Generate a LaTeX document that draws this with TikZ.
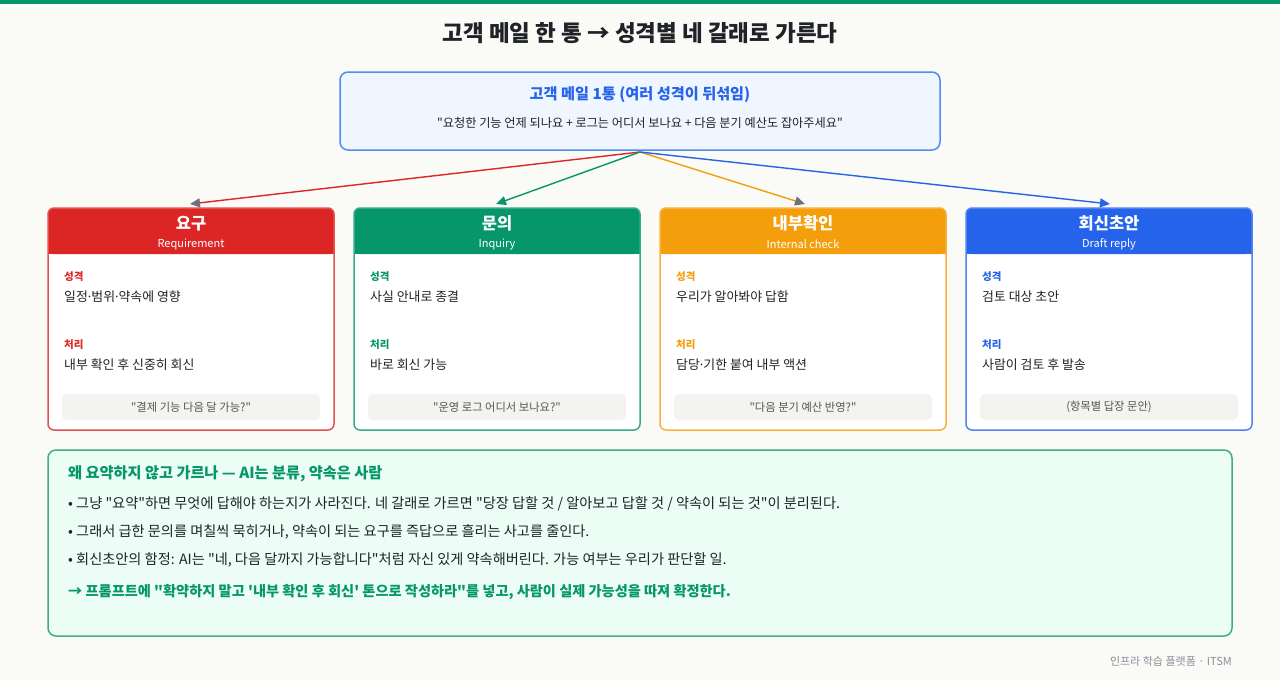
\documentclass[tikz,border=0pt]{standalone}
\usepackage{fontspec}
\setmainfont{Noto Sans CJK KR}[Ligatures=TeXOff]
\newfontfamily\dotfont{Noto Sans}
\usetikzlibrary{arrows.meta,calc}
\definecolor{bgc}{HTML}{FAFAF7}
\definecolor{cred}{HTML}{DC2626}
\definecolor{cgreen}{HTML}{059669}
\definecolor{corange}{HTML}{F59E0B}
\definecolor{cblue}{HTML}{2563EB}
\definecolor{ink}{HTML}{1F2328}
\definecolor{agray}{HTML}{6B7280}
\definecolor{qfill}{HTML}{F3F3EF}
\definecolor{qtext}{HTML}{555555}
\definecolor{topfill}{HTML}{EFF6FF}
\definecolor{topline}{HTML}{558BEF}
\definecolor{whyfill}{HTML}{ECFDF5}
\definecolor{whyline}{HTML}{40AD85}
\definecolor{foot}{HTML}{8A8F98}
\newcommand\fsz[1]{\fontsize{#1}{#1}\selectfont}
\newcommand\mdot{{\dotfont ·}}
\tikzset{
  cardbox/.style={fill=white, minimum width=286, minimum height=222, inner sep=0, outer sep=0},
  lbl/.style={anchor=west, inner sep=0, font=\fsz{10.5}\bfseries},
  bodytxt/.style={anchor=west, inner sep=0, font=\fsz{12.9}, text=ink},
  conn/.style={line width=1.4},
  bul/.style={anchor=west, inner sep=0, text=ink, font=\fsz{14.2}},
}
\newcommand\drawcard[8]{%
  \node[cardbox] (#1) at (#2,319) {};
  \fill[#3, rounded corners=6] (#1.north west) rectangle ($(#1.north east)+(0,46)$);
  \fill[#3] ($(#1.north west)+(0,30)$) rectangle ($(#1.north east)+(0,46)$);
  \draw[#3!80!white, line width=1.5, rounded corners=6] (#1.north west) rectangle (#1.south east);
  \node[inner sep=0, text=white, font=\fsz{16.5}\bfseries] (#1-t) at ($(#1.north)+(0,15.5)$) {#4};
  \node[inner sep=0, text=white, font=\fsz{11}] (#1-s) at ($(#1.north)+(0,36.5)$) {#5};
  \node[lbl, text=#3] (#1-l1) at ($(#1.north west)+(16,69)$) {성격};
  \node[bodytxt] (#1-b1) at ($(#1.north west)+(16,89)$) {#6};
  \node[lbl, text=#3] (#1-l2) at ($(#1.north west)+(16,137)$) {처리};
  \node[bodytxt] (#1-b2) at ($(#1.north west)+(16,157)$) {#7};
  \node[fill=qfill, rounded corners=5, minimum width=258, minimum height=26, inner sep=0, text=qtext, font=\fsz{11.3}] (#1-q) at ($(#1.north)+(0,199)$) {#8};
}
\begin{document}
\begin{tikzpicture}[x=1pt, y=-1pt]
\useasboundingbox (0,0) rectangle (1280,680);
\fill[bgc] (0,0) rectangle (1280,680);
\fill[cgreen] (0,0) rectangle (1280,4);
\node[inner sep=0, text=ink, font=\fsz{22.5}\bfseries] (title) at (640,33) {고객 메일 한 통 → 성격별 네 갈래로 가른다};

\node[draw=topline, fill=topfill, line width=1.5, rounded corners=8, minimum width=600, minimum height=78, inner sep=0, outer sep=0] (mail) at (640,111) {};
\node[inner sep=0, text=cblue, font=\fsz{15.2}\bfseries] (mail-t) at (640,95) {고객 메일 1통 (여러 성격이 뒤섞임)};
\node[inner sep=0, text=ink, font=\fsz{12.2}] (mail-s) at (640,123) {"요청한 기능 언제 되나요 + 로그는 어디서 보나요 + 다음 분기 예산도 잡아주세요"};

\drawcard{req}{191}{cred}{요구}{Requirement}{일정\mdot 범위\mdot 약속에 영향}{내부 확인 후 신중히 회신}{"결제 기능 다음 달 가능?"}
\drawcard{inq}{497}{cgreen}{문의}{Inquiry}{사실 안내로 종결}{바로 회신 가능}{"운영 로그 어디서 보나요?"}
\drawcard{chk}{803}{corange}{내부확인}{Internal check}{우리가 알아봐야 답함}{담당\mdot 기한 붙여 내부 액션}{"다음 분기 예산 반영?"}
\drawcard{dft}{1109}{cblue}{회신초안}{Draft reply}{검토 대상 초안}{사람이 검토 후 발송}{(항목별 답장 문안)}

\coordinate (src) at ($(mail.south)+(0,2)$);
\draw[conn, cred, -{Triangle[length=10pt,width=9pt,color=agray]}] (src) -- ($(req.north)+(-1,-4)$);
\draw[conn, cgreen, -{Triangle[length=10pt,width=9pt]}] (src) -- ($(inq.north)+(-1,-4)$);
\draw[conn, corange, -{Triangle[length=10pt,width=9pt,color=agray]}] (src) -- ($(chk.north)+(2,-4)$);
\draw[conn, cblue, -{Triangle[length=10pt,width=9pt]}] (src) -- ($(dft.north)+(1,-4)$);

\node[draw=whyline, fill=whyfill, line width=1.5, rounded corners=8, minimum width=1184, minimum height=186, inner sep=0, outer sep=0] (why) at (640,543) {};
\node[anchor=west, inner sep=0, text=cgreen, font=\fsz{15.2}\bfseries] (why-h) at (68,474) {왜 요약하지 않고 가르나 — AI는 분류, 약속은 사람};
\node[bul] (why-1) at (68,504) {• 그냥 "요약"하면 무엇에 답해야 하는지가 사라진다. 네 갈래로 가르면 "당장 답할 것 / 알아보고 답할 것 / 약속이 되는 것"이 분리된다.};
\node[bul] (why-2) at (68,532) {• 그래서 급한 문의를 며칠씩 묵히거나, 약속이 되는 요구를 즉답으로 흘리는 사고를 줄인다.};
\node[bul] (why-3) at (68,560) {• 회신초안의 함정: AI는 "네, 다음 달까지 가능합니다"처럼 자신 있게 약속해버린다. 가능 여부는 우리가 판단할 일.};
\node[anchor=west, inner sep=0, text=cgreen, font=\fsz{14.2}\bfseries] (why-4) at (68,592) {→ 프롬프트에 "확약하지 말고 '내부 확인 후 회신' 톤으로 작성하라"를 넣고, 사람이 실제 가능성을 따져 확정한다.};

\node[anchor=east, inner sep=0, text=foot, font=\fsz{11}] (footer) at (1232,661) {인프라 학습 플랫폼 · ITSM};
\end{tikzpicture}
\end{document}
